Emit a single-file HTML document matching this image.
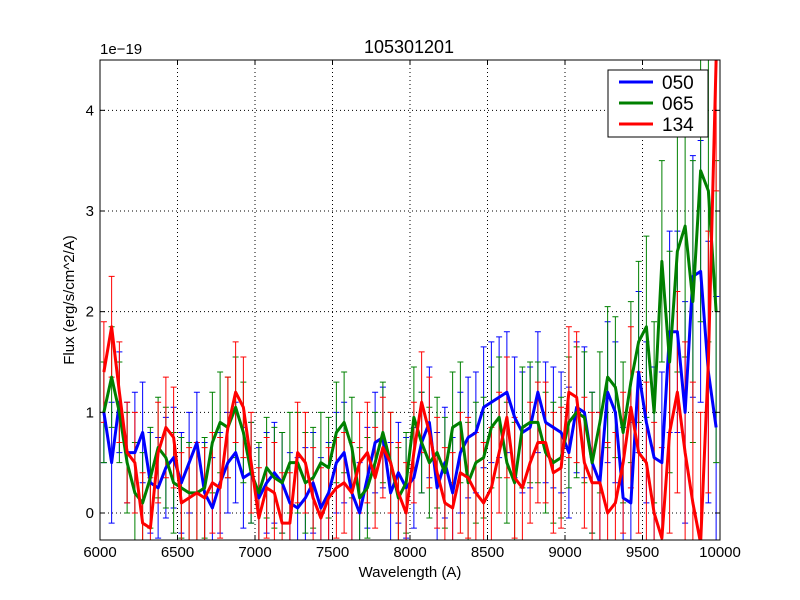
<!DOCTYPE html>
<html><head><meta charset="utf-8"><style>
html,body{margin:0;padding:0;background:#fff;width:800px;height:600px;overflow:hidden;font-family:"Liberation Sans","DejaVu Sans",sans-serif}
svg{display:block}
</style></head><body>
<svg id="chart" width="800" height="600" xmlns="http://www.w3.org/2000/svg">
<rect x="0" y="0" width="800" height="600" fill="#fff"/>
<g id="grid"></g>
<g id="plot"></g>
<rect x="100" y="60" width="620" height="480" fill="none" stroke="#000" stroke-width="1"/>
<g id="ticks"></g>
<text x="409" y="53" font-size="18" text-anchor="middle">105301201</text>
<text x="100" y="54" font-size="15">1e−19</text>
<text x="410" y="577" font-size="15" text-anchor="middle">Wavelength (A)</text>
<text x="74" y="300" font-size="15" text-anchor="middle" transform="rotate(-90 74 300)">Flux (erg/s/cm^2/A)</text>
<g>
<rect x="608" y="70" width="100" height="67" fill="#fff" stroke="#000"/>
<g><line x1="619" y1="82" x2="653" y2="82" stroke="#0000ff" stroke-width="3"/><text x="662" y="89" font-size="19">050</text></g>
<g><line x1="619" y1="103" x2="653" y2="103" stroke="#008000" stroke-width="3"/><text x="662" y="110" font-size="19">065</text></g>
<g><line x1="619" y1="124" x2="653" y2="124" stroke="#ff0000" stroke-width="3"/><text x="662" y="131" font-size="19">134</text></g>
</g>
</svg>
<script>
const xTicks=[6000,6500,7000,7500,8000,8500,9000,9500,10000];
const yTicks=[0,1,2,3,4];
const s050=[1.0,0.5,1.1,0.6,0.6,0.8,0.3,0.25,0.45,0.55,0.3,0.5,0.7,0.2,0.05,0.3,0.5,0.6,0.35,0.4,0.15,0.3,0.4,0.3,0.1,0.05,0.15,0.3,0.05,0.2,0.5,0.6,0.2,0.0,0.35,0.7,0.75,0.2,0.4,0.25,0.35,0.7,0.9,0.25,0.5,0.2,0.6,0.75,0.8,1.05,1.1,1.15,1.2,0.95,0.8,0.85,1.2,0.9,0.85,0.8,0.6,1.05,1.0,0.5,0.3,1.2,1.0,0.15,0.1,1.4,0.9,0.55,0.5,1.8,1.8,1.0,2.35,2.4,1.4,0.85];
const s065=[1.0,1.35,1.0,0.5,0.2,0.1,0.35,0.65,0.55,0.3,0.25,0.2,0.2,0.25,0.7,0.9,0.85,1.05,0.8,0.4,0.2,0.45,0.35,0.3,0.5,0.5,0.3,0.35,0.5,0.45,0.8,0.9,0.65,0.15,0.25,0.5,0.8,0.5,0.15,0.3,0.95,0.7,0.5,0.6,0.4,0.85,0.9,0.3,0.5,0.55,0.85,0.95,0.5,0.3,0.85,0.9,0.9,0.6,0.5,0.55,0.9,1.0,0.95,0.5,0.9,1.35,1.25,0.8,1.3,1.7,1.85,1.0,2.5,1.5,2.6,2.85,2.1,3.4,3.2,2.0];
const s134=[1.4,1.85,1.2,0.6,0.5,-0.1,-0.15,0.6,0.85,0.75,0.1,0.15,0.2,0.15,0.3,0.25,0.85,1.2,1.05,0.5,-0.05,0.25,0.2,-0.1,-0.1,0.6,0.5,0.15,-0.05,0.15,0.25,0.3,0.2,0.5,0.6,0.35,0.65,0.5,0.2,0.0,0.6,1.1,0.8,0.4,0.1,0.05,0.4,0.35,0.2,0.1,0.25,0.6,0.95,0.35,0.25,0.5,0.7,0.7,0.4,0.45,1.2,1.15,0.5,0.3,0.3,0.0,0.1,0.5,1.05,0.6,0.5,0.0,-0.25,0.8,1.2,0.6,0.1,-0.3,1.5,4.5];
const err050=[0.5,0.6,0.5,0.5,0.6,0.5,0.5,0.5,0.5,0.5,0.5,0.5,0.5,0.5,0.5,0.5,0.5,0.5,0.5,0.5,0.5,0.5,0.5,0.5,0.5,0.5,0.5,0.5,0.5,0.5,0.5,0.5,0.5,0.5,0.5,0.5,0.5,0.5,0.5,0.5,0.5,0.5,0.55,0.55,0.55,0.55,0.6,0.6,0.6,0.6,0.6,0.6,0.6,0.6,0.6,0.6,0.6,0.6,0.6,0.6,0.65,0.65,0.65,0.7,0.7,0.7,0.7,0.7,0.8,0.8,0.8,0.9,0.9,1.0,1.0,1.1,1.2,1.3,1.3,1.3];
const err065=[0.5,0.5,0.5,0.5,0.5,0.5,0.5,0.5,0.5,0.5,0.5,0.5,0.5,0.5,0.5,0.5,0.5,0.5,0.5,0.5,0.5,0.5,0.5,0.5,0.5,0.5,0.5,0.5,0.5,0.5,0.5,0.5,0.5,0.5,0.5,0.5,0.5,0.5,0.5,0.5,0.5,0.5,0.55,0.55,0.55,0.55,0.6,0.6,0.6,0.6,0.6,0.6,0.6,0.6,0.6,0.6,0.6,0.6,0.6,0.6,0.65,0.65,0.65,0.7,0.7,0.7,0.7,0.7,0.8,0.8,0.9,0.9,1.0,1.1,1.2,1.3,1.4,1.5,1.5,1.5];
const err134=[0.5,0.5,0.5,0.5,0.5,0.5,0.5,0.5,0.5,0.5,0.5,0.5,0.5,0.5,0.5,0.5,0.5,0.5,0.5,0.5,0.5,0.5,0.5,0.5,0.5,0.5,0.5,0.5,0.5,0.5,0.5,0.5,0.5,0.5,0.5,0.5,0.5,0.5,0.5,0.5,0.5,0.5,0.55,0.55,0.55,0.55,0.6,0.6,0.6,0.6,0.6,0.6,0.6,0.6,0.6,0.6,0.6,0.6,0.6,0.6,0.65,0.65,0.65,0.7,0.7,0.7,0.7,0.7,0.8,0.8,0.8,0.9,0.9,1.0,1.0,1.1,1.2,1.3,1.3,1.3];
const wl=[];
for(let w=6025;w<10000;w+=50) wl.push(w);
const NS="http://www.w3.org/2000/svg";
const X=v=>100+(v-6000)/4000*620;
const Y=v=>513-v*100.67;
function mk(t,a,p){const e=document.createElementNS(NS,t);for(const k in a)e.setAttribute(k,a[k]);p.appendChild(e);return e;}
const grid=document.getElementById('grid'),ticks=document.getElementById('ticks'),plot=document.getElementById('plot');
xTicks.forEach(t=>{
  const x=X(t);
  const g=mk('line',{x1:x,y1:60,x2:x,y2:540,stroke:'#000','stroke-dasharray':'1,3'},grid);
  
  
  mk('line',{x1:x,y1:540,x2:x,y2:535,stroke:'#000'},ticks);
  mk('line',{x1:x,y1:60,x2:x,y2:65,stroke:'#000'},ticks);
  const tx=mk('text',{x:x,y:557,'font-size':15,'text-anchor':'middle'},ticks);
  tx.textContent=t;
  
  
});
yTicks.forEach(t=>{
  const y=Y(t);
  const g=mk('line',{x1:100,y1:y,x2:720,y2:y,stroke:'#000','stroke-dasharray':'1,3'},grid);
  
  
  mk('line',{x1:100,y1:y,x2:105,y2:y,stroke:'#000'},ticks);
  mk('line',{x1:720,y1:y,x2:715,y2:y,stroke:'#000'},ticks);
  const tx=mk('text',{x:94,y:y+5,'font-size':15,'text-anchor':'end'},ticks);
  tx.textContent=t;
  
  
});
const defs=mk('defs',{},plot);
const cp=mk('clipPath',{id:'clip'},defs);
mk('rect',{x:100,y:60,width:620,height:480},cp);
const series=[[s050,err050,'#0000ff','050'],[s065,err065,'#008000','065'],[s134,err134,'#ff0000','134']];
series.forEach(([vals,errs,col,name])=>{
  const g=mk('g',{'clip-path':'url(#clip)'},plot);
  
  
  vals.forEach((v,i)=>{
    const x=X(wl[i]),y1=Y(v-errs[i]),y2=Y(v+errs[i]);
    const e=mk('path',{d:`M${x},${y1}V${y2}M${x-3},${y1}H${x+3}M${x-3},${y2}H${x+3}`,stroke:col,'stroke-width':1,fill:'none'},g);
    
    
  });
});
series.forEach(([vals,errs,col,name])=>{
  const g=mk('g',{'clip-path':'url(#clip)'},plot);
  const pts=vals.map((v,i)=>X(wl[i])+','+Y(v)).join(' ');
  const l=mk('polyline',{points:pts,fill:'none',stroke:col,'stroke-width':3,'stroke-linejoin':'round'},g);
  
  
});
</script>
</body></html>
